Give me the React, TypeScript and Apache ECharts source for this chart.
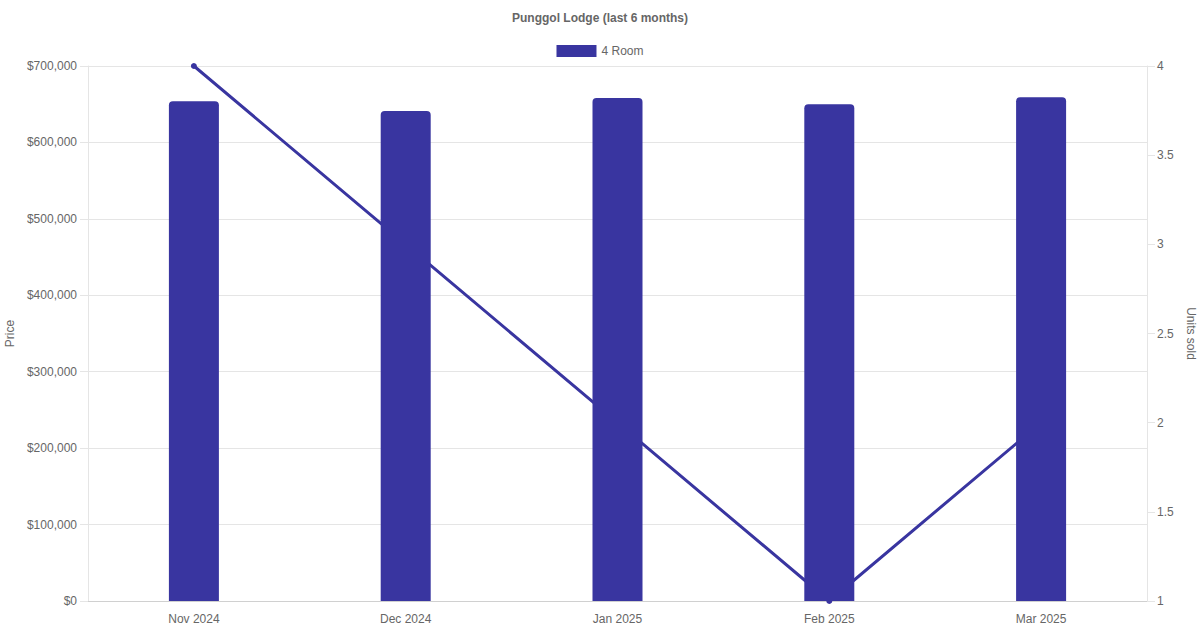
import React, { useEffect, useRef } from "react";
import * as echarts from "echarts";

const categories = ["Nov 2024", "Dec 2024", "Jan 2025", "Feb 2025", "Mar 2025"];
const prices = [654000, 641000, 658000, 650000, 659000];
const unitsSold = [4, 3, 2, 1, 2];
const titleText = "Punggol Lodge (last 6 months)";
const seriesName = "4 Room";

const COLOR = "#3935a0";
const FONT = "'Liberation Sans', Arial, Helvetica, sans-serif";
const TEXT = "#666666";
const GRID = "#e5e5e5";

export default function App() {
  const ref = useRef<HTMLDivElement>(null);
  useEffect(() => {
    document.body.style.margin = "0";
    if (!ref.current) return;
    const chart = echarts.init(ref.current, undefined, { renderer: "svg" });
    chart.setOption({
      animation: false,
      textStyle: { fontFamily: FONT },
      title: {
        text: titleText,
        left: "center",
        top: 7,
        textStyle: { fontFamily: FONT, fontSize: 12, fontWeight: "bold", color: TEXT },
      },
      legend: {
        data: [{ name: seriesName, icon: "rect" }],
        top: 40,
        left: "center",
        itemWidth: 40,
        itemHeight: 12,
        itemGap: 10,
        textStyle: { fontFamily: FONT, fontSize: 12, color: TEXT },
      },
      grid: {
        left: 88,
        right: 53,
        top: 66,
        bottom: 29,
        containLabel: false,
        outerBoundsMode: "none",
      },
      xAxis: {
        type: "category",
        data: categories,
        boundaryGap: true,
        axisLine: { show: true, lineStyle: { color: "#d0d0d0", width: 1 } },
        axisTick: { show: false },
        axisLabel: { color: TEXT, fontSize: 12, fontFamily: FONT, margin: 12 },
        splitLine: { show: false },
      },
      yAxis: [
        {
          type: "value",
          min: 0,
          max: 700000,
          interval: 100000,
          position: "left",
          name: "Price",
          nameLocation: "middle",
          nameGap: 71,
          nameTextStyle: { color: TEXT, fontSize: 12, fontFamily: FONT },
          axisLine: { show: true, lineStyle: { color: GRID } },
          axisTick: { show: true, length: 8, lineStyle: { color: GRID } },
          axisLabel: {
            color: TEXT,
            fontSize: 12,
            fontFamily: FONT,
            margin: 11,
            formatter: (v: number) => "$" + v.toLocaleString("en-US"),
          },
          splitLine: { show: true, lineStyle: { color: GRID, width: 1 } },
        },
        {
          type: "value",
          min: 1,
          max: 4,
          interval: 0.5,
          position: "right",
          name: "Units sold",
          nameLocation: "middle",
          nameGap: 34,
          nameRotate: -90,
          nameTextStyle: { color: TEXT, fontSize: 12, fontFamily: FONT },
          axisLine: { show: true, lineStyle: { color: GRID } },
          axisTick: { show: true, length: 8, lineStyle: { color: GRID } },
          axisLabel: { color: TEXT, fontSize: 12, fontFamily: FONT, margin: 10 },
          splitLine: { show: false },
        },
      ],
      series: [
        {
          name: "Units sold",
          type: "line",
          yAxisIndex: 1,
          data: unitsSold,
          z: 1,
          symbol: "circle",
          symbolSize: 6,
          showSymbol: true,
          lineStyle: { color: COLOR, width: 3 },
          itemStyle: { color: COLOR },
        },
        {
          name: seriesName,
          type: "bar",
          yAxisIndex: 0,
          data: prices,
          z: 3,
          barWidth: 50,
          itemStyle: {
            color: COLOR,
            borderRadius: [4, 4, 0, 0],
          },
        },
      ],
    });
    return () => chart.dispose();
  }, []);
  return <div ref={ref} style={{ width: 1200, height: 630 }} />;
}
